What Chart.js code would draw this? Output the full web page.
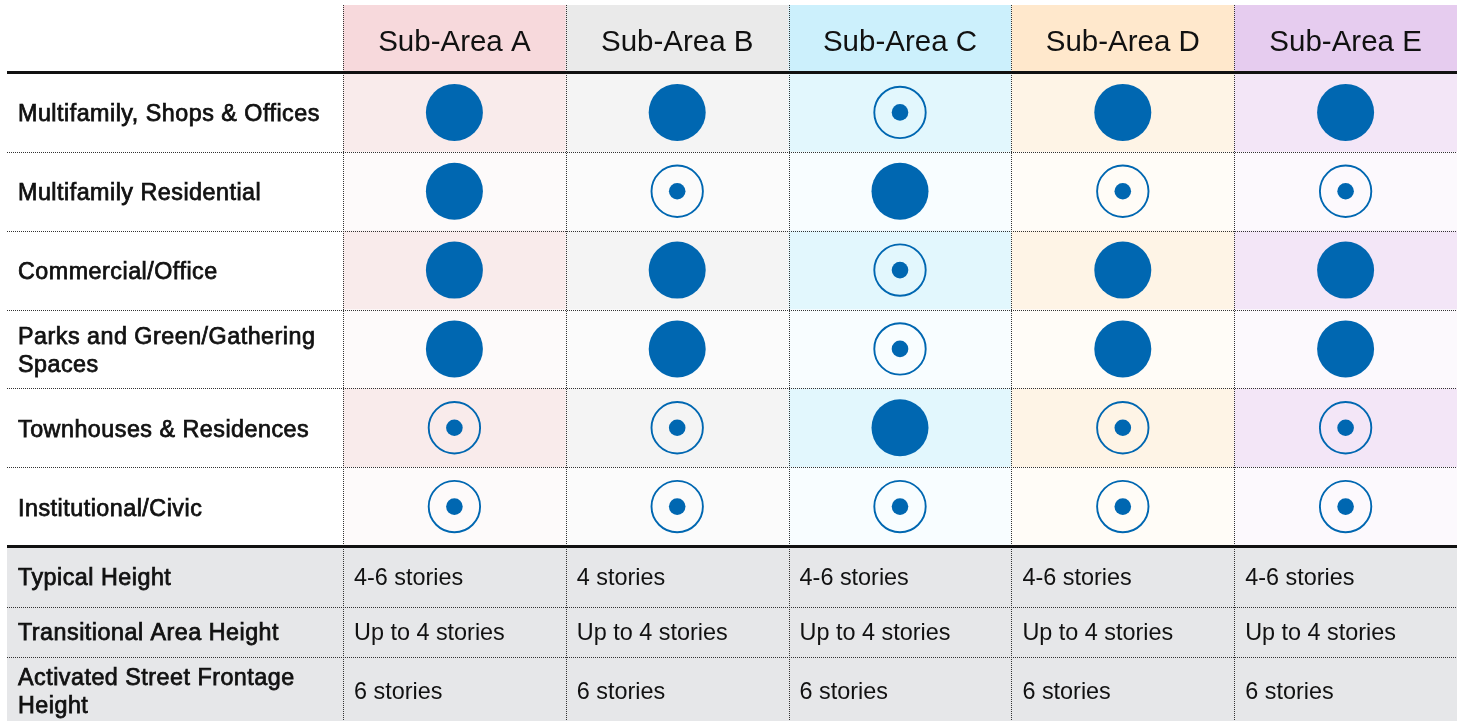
<!DOCTYPE html>
<html><head><meta charset="utf-8">
<script src="https://cdn.jsdelivr.net/npm/chart.js@4.4.1/dist/chart.umd.min.js"></script>
<style>html,body{margin:0;padding:0;background:#fff;overflow:hidden}canvas{display:block}</style>
</head><body>
<canvas id="c" width="1461" height="721"></canvas>
<script>
// ---------- DATA ----------
const subAreas = ['Sub-Area A','Sub-Area B','Sub-Area C','Sub-Area D','Sub-Area E'];
const landUses = ['Multifamily, Shops & Offices','Multifamily Residential','Commercial/Office','Parks and Green/Gathering Spaces','Townhouses & Residences','Institutional/Civic'];
// 2 = filled circle, 1 = ring with centre dot
const subAreaA = [2,2,2,2,1,1];
const subAreaB = [2,1,2,2,1,1];
const subAreaC = [1,2,1,1,2,1];
const subAreaD = [2,1,2,2,1,1];
const subAreaE = [2,1,2,2,1,1];
const heightRows = ['Typical Height','Transitional Area Height','Activated Street Frontage Height'];
const typicalHeight = ['4-6 stories','4 stories','4-6 stories','4-6 stories','4-6 stories'];
const transitionalHeight = ['Up to 4 stories','Up to 4 stories','Up to 4 stories','Up to 4 stories','Up to 4 stories'];
const frontageHeight = ['6 stories','6 stories','6 stories','6 stories','6 stories'];

// ---------- BUILD ----------
const matrix = [subAreaA, subAreaB, subAreaC, subAreaD, subAreaE];
const heightValues = [typicalHeight, transitionalHeight, frontageHeight];
const primary = [], secondary = [];
matrix.forEach((col, i) => col.forEach((v, j) => {
  const p = {x: subAreas[i], y: landUses[j]};
  (v === 2 ? primary : secondary).push(p);
}));

const BLUE = '#0067B1';
const style = {
  headerBg: ['#F7D9DC','#EAEAEA','#CCF0FC','#FFE8CC','#E6CCEF'],
  tintBg:   ['#F9EBEB','#F4F4F4','#E2F7FD','#FEF4E6','#F3E6F7'],
  lightBg:  ['#FDFAFA','#FBFBFB','#F8FDFF','#FFFCF7','#FCF9FD'],
  bottomBg: '#E6E7E9',
  left: 7, right: 1457, headerTop: 5,
  bottomEdges: [548, 607, 657, 725]
};

function dotted(ctx, x0, y0, x1, y1) {
  ctx.save();
  ctx.strokeStyle = '#333';
  ctx.lineWidth = 1;
  ctx.setLineDash([1, 1]);
  ctx.beginPath();
  ctx.moveTo(x0, y0); ctx.lineTo(x1, y1);
  ctx.stroke();
  ctx.restore();
}
function wrap(ctx, text, maxW) {
  const words = text.split(' ');
  const lines = []; let cur = '';
  words.forEach(w => {
    const t = cur ? cur + ' ' + w : w;
    if (ctx.measureText(t).width > maxW && cur) { lines.push(cur); cur = w; } else cur = t;
  });
  if (cur) lines.push(cur);
  return lines;
}
function labelText(ctx, text, x, yc) {
  const lines = wrap(ctx, text, 318);
  const lh = 28.5;
  lines.forEach((l, k) => {
    const y = yc + (k - (lines.length - 1) / 2) * lh;
    ctx.fillText(l, x, y);
    ctx.strokeText(l, x, y);
  });
}
function setLabelFont(ctx) {
  ctx.font = '23.3px "Liberation Sans", Arial, sans-serif';
  ctx.letterSpacing = '0.5px';
  ctx.strokeStyle = '#111';
  ctx.lineWidth = 0.75;
}

const tablePlugin = {
  id: 'table',
  beforeDatasetsDraw(chart) {
    const ctx = chart.ctx;
    const xs = chart.scales.x, ys = chart.scales.y;
    const area = chart.chartArea;
    const n = subAreas.length, m = landUses.length;
    const cw = (area.right - area.left) / n;
    const rh = (area.bottom - area.top) / m;
    ctx.save();
    ctx.fillStyle = '#fff';
    ctx.fillRect(0, 0, chart.width, chart.height);
    // header
    for (let i = 0; i < n; i++) {
      const cx = xs.getPixelForValue(i);
      ctx.fillStyle = style.headerBg[i];
      ctx.fillRect(cx - cw / 2, style.headerTop, cw, area.top - style.headerTop);
    }
    // body cells
    for (let j = 0; j < m; j++) {
      const cy = ys.getPixelForValue(j);
      for (let i = 0; i < n; i++) {
        const cx = xs.getPixelForValue(i);
        ctx.fillStyle = (j % 2 === 0 ? style.tintBg : style.lightBg)[i];
        ctx.fillRect(cx - cw / 2, cy - rh / 2, cw, rh);
      }
    }
    // bottom block
    const be = style.bottomEdges;
    ctx.fillStyle = style.bottomBg;
    ctx.fillRect(style.left, area.bottom, style.right - style.left, chart.height - area.bottom);
    // horizontal dotted lines
    for (let j = 1; j < m; j++) {
      const y = Math.round(area.top + j * rh) + 0.5;
      dotted(ctx, style.left, y, style.right, y);
    }
    for (let k = 1; k < be.length - 1; k++) {
      dotted(ctx, style.left, be[k] + 0.5, style.right, be[k] + 0.5);
    }
    // vertical dotted lines
    for (let i = 0; i < n; i++) {
      const x = Math.round(xs.getPixelForValue(i) - cw / 2) + 0.5;
      dotted(ctx, x, style.headerTop, x, chart.height);
    }
    // thick rules
    ctx.fillStyle = '#111';
    ctx.fillRect(style.left, area.top - 2, style.right - style.left, 3);
    ctx.fillRect(style.left, area.bottom - 1, style.right - style.left, 3);
    // header text
    ctx.fillStyle = '#111';
    ctx.textBaseline = 'middle';
    ctx.textAlign = 'center';
    ctx.font = '29.5px "Liberation Sans", Arial, sans-serif';
    for (let i = 0; i < n; i++) ctx.fillText(subAreas[i], xs.getPixelForValue(i), 43);
    // row labels
    ctx.textAlign = 'left';
    setLabelFont(ctx);
    for (let j = 0; j < m; j++) labelText(ctx, landUses[j], 18, ys.getPixelForValue(j) + 2.5);
    for (let k = 0; k < heightRows.length; k++) {
      const yc = (be[k] + be[k + 1]) / 2 + 1.5;
      setLabelFont(ctx);
      labelText(ctx, heightRows[k], 18, yc);
      ctx.letterSpacing = '0px';
      ctx.font = '23.4px "Liberation Sans", Arial, sans-serif';
      for (let i = 0; i < n; i++) {
        ctx.fillText(heightValues[k][i], xs.getPixelForValue(i) - cw / 2 + 11, yc);
      }
    }
    ctx.restore();
  }
};

new Chart(document.getElementById('c'), {
  type: 'scatter',
  data: {
    datasets: [
      {label: 'Primary', data: primary, pointStyle: 'circle', pointRadius: 28.5,
       backgroundColor: BLUE, borderWidth: 0},
      {label: 'Secondary ring', data: secondary, pointStyle: 'circle', pointRadius: 25.7,
       backgroundColor: 'rgba(0,0,0,0)', borderColor: BLUE, borderWidth: 1.9},
      {label: 'Secondary dot', data: secondary, pointStyle: 'circle', pointRadius: 8.3,
       backgroundColor: BLUE, borderWidth: 0}
    ]
  },
  options: {
    responsive: false,
    animation: false,
    events: [],
    layout: {autoPadding: false, padding: {left: 343, right: 4, top: 73, bottom: 175}},
    plugins: {legend: {display: false}, tooltip: {enabled: false}},
    scales: {
      x: {type: 'category', labels: subAreas, offset: true, display: false},
      y: {type: 'category', labels: landUses, offset: true, display: false}
    }
  },
  plugins: [tablePlugin]
});
</script>
</body></html>
